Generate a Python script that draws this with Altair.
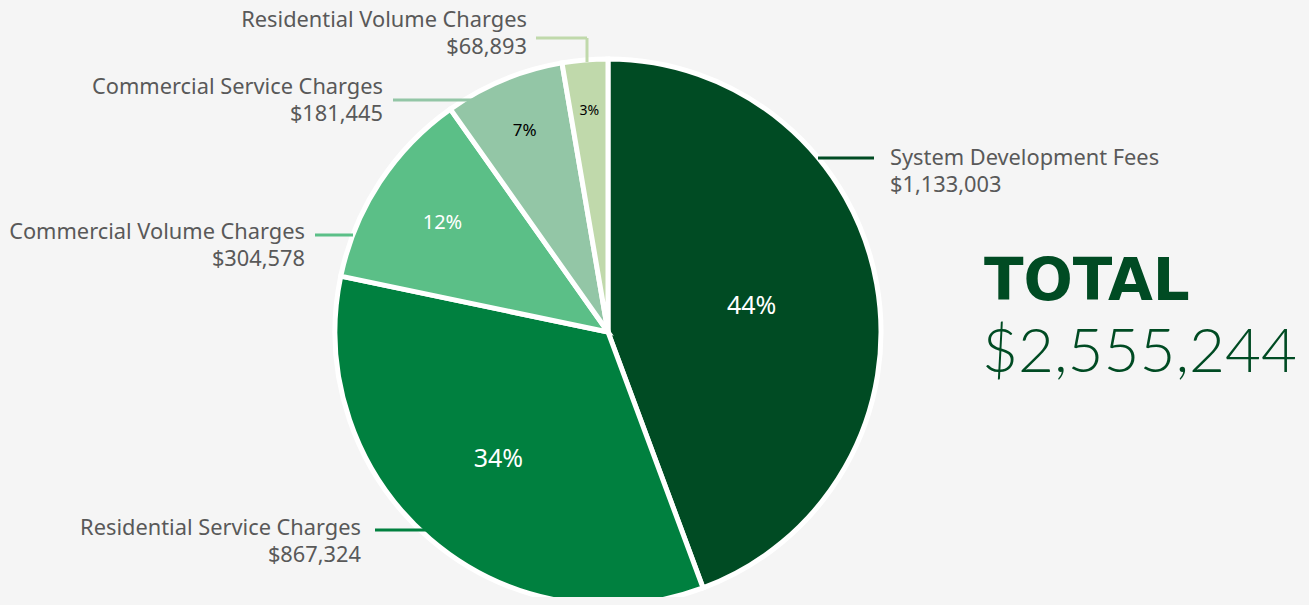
import altair as alt
import pandas as pd
from altair.utils.html import HTML_TEMPLATE

categories = ["System Development Fees", "Residential Service Charges", "Commercial Volume Charges",
              "Commercial Service Charges", "Residential Volume Charges"]
amounts = [1133003, 867324, 304578, 181445, 68893]
pct_labels = ["44%", "34%", "12%", "7%", "3%"]
amount_labels = ["$1,133,003", "$867,324", "$304,578", "$181,445", "$68,893"]
total_label = "$2,555,244"

colors = ["#004b23", "#00803f", "#5bbf87", "#93c6a6", "#c0d9ab"]
pct_colors = ["white", "white", "white", "black", "black"]
pct_sizes = [25, 25, 20, 17, 14]
pct_radius = [146, 168, 198, 218, 222]

# layout (chart pixel coords) for callouts
CX, CY, R = 600, 324, 273
lbl_x = [882, 353, 297, 375, 519]
lbl_y = [150, 520, 224, 79, 12]
lbl_align = ["left", "right", "right", "right", "right"]
lead = [  # x, y, x2, y2, category index
    (810, 150, 866, 150, 0),
    (367, 522, 420, 522, 1),
    (307, 227, 345, 227, 2),
    (385, 92, 470, 92, 3),
    (528, 30, 579, 30, 4),
    (579, 30, 579, 54, 4),
]

df = pd.DataFrame({
    "cat": categories, "amt": amounts, "idx": range(5), "pct": pct_labels,
    "pcol": pct_colors, "psize": pct_sizes, "prad": pct_radius,
})

cscale = alt.Scale(domain=categories, range=colors)

arcs = alt.Chart(df).mark_arc(outerRadius=R, stroke="white", strokeWidth=5).encode(
    theta=alt.Theta("amt:Q", stack=True),
    order=alt.Order("idx:Q"),
    color=alt.Color("cat:N", scale=cscale, legend=None),
    x=alt.value(CX), y=alt.value(CY),
)

pcts = alt.Chart(df).transform_joinaggregate(
    tot="sum(amt)"
).transform_window(
    cum="sum(amt)", sort=[alt.SortField("idx")], frame=[None, 0]
).transform_calculate(
    mid="(datum.cum - datum.amt / 2) / datum.tot * 2 * PI",
).transform_calculate(
    px=f"{CX} + datum.prad * sin(datum.mid)",
    py=f"{CY} - datum.prad * cos(datum.mid)",
).mark_text(font="Noto Sans", baseline="middle").encode(
    x=alt.X("px:Q", scale=None), y=alt.Y("py:Q", scale=None),
    text="pct:N",
    color=alt.Color("pcol:N", scale=None),
    size=alt.Size("psize:Q", scale=None),
)

ldf = pd.DataFrame({
    "x": [l[0] for l in lead], "y": [l[1] for l in lead],
    "x2": [l[2] for l in lead], "y2": [l[3] for l in lead],
    "cat": [categories[l[4]] for l in lead],
})
leaders = alt.Chart(ldf).mark_rule(strokeWidth=3).encode(
    x=alt.X("x:Q", scale=None), y=alt.Y("y:Q", scale=None),
    x2="x2:Q", y2="y2:Q",
    color=alt.Color("cat:N", scale=cscale, legend=None),
)

tdf = pd.DataFrame({
    "x": lbl_x, "y": lbl_y, "align": lbl_align,
    "txt": [[c, a] for c, a in zip(categories, amount_labels)],
})
txt_common = dict(font="Noto Sans", fontSize=21.8, color="#595959", lineHeight=27, baseline="middle")
left_txt = alt.Chart(tdf[tdf["align"] == "left"]).mark_text(align="left", **txt_common).encode(
    x=alt.X("x:Q", scale=None), y=alt.Y("y:Q", scale=None), text="txt"
)
right_txt = alt.Chart(tdf[tdf["align"] == "right"]).mark_text(align="right", **txt_common).encode(
    x=alt.X("x:Q", scale=None), y=alt.Y("y:Q", scale=None), text="txt"
)

tot_df = pd.DataFrame({"t": ["TOTAL"], "v": [total_label]})
tot1 = alt.Chart(tot_df).mark_text(
    align="left", baseline="alphabetic", font="DejaVu Sans", fontWeight="bold", fontSize=58, color="#004b23"
).encode(x=alt.value(976), y=alt.value(292), text="t:N")
tot2 = alt.Chart(tot_df).mark_text(
    align="left", baseline="alphabetic", font="Lato", fontWeight=300, fontSize=62, color="#004b23"
).encode(x=alt.value(974), y=alt.value(364), text="v:N")

chart = alt.layer(arcs, pcts, leaders, left_txt, right_txt, tot1, tot2).properties(
    width=1293, height=589, autosize="none", padding=0, background="#f5f5f5"
).configure_view(stroke=None)


class PageTemplate:
    def render(self, **kw):
        html = HTML_TEMPLATE.render(**kw)
        return html.replace("<head>", "<head>\n<style>html, body { background: #f5f5f5; }</style>", 1)


chart.save("out.html", embed_options={"renderer": "svg", "actions": False}, template=PageTemplate())
